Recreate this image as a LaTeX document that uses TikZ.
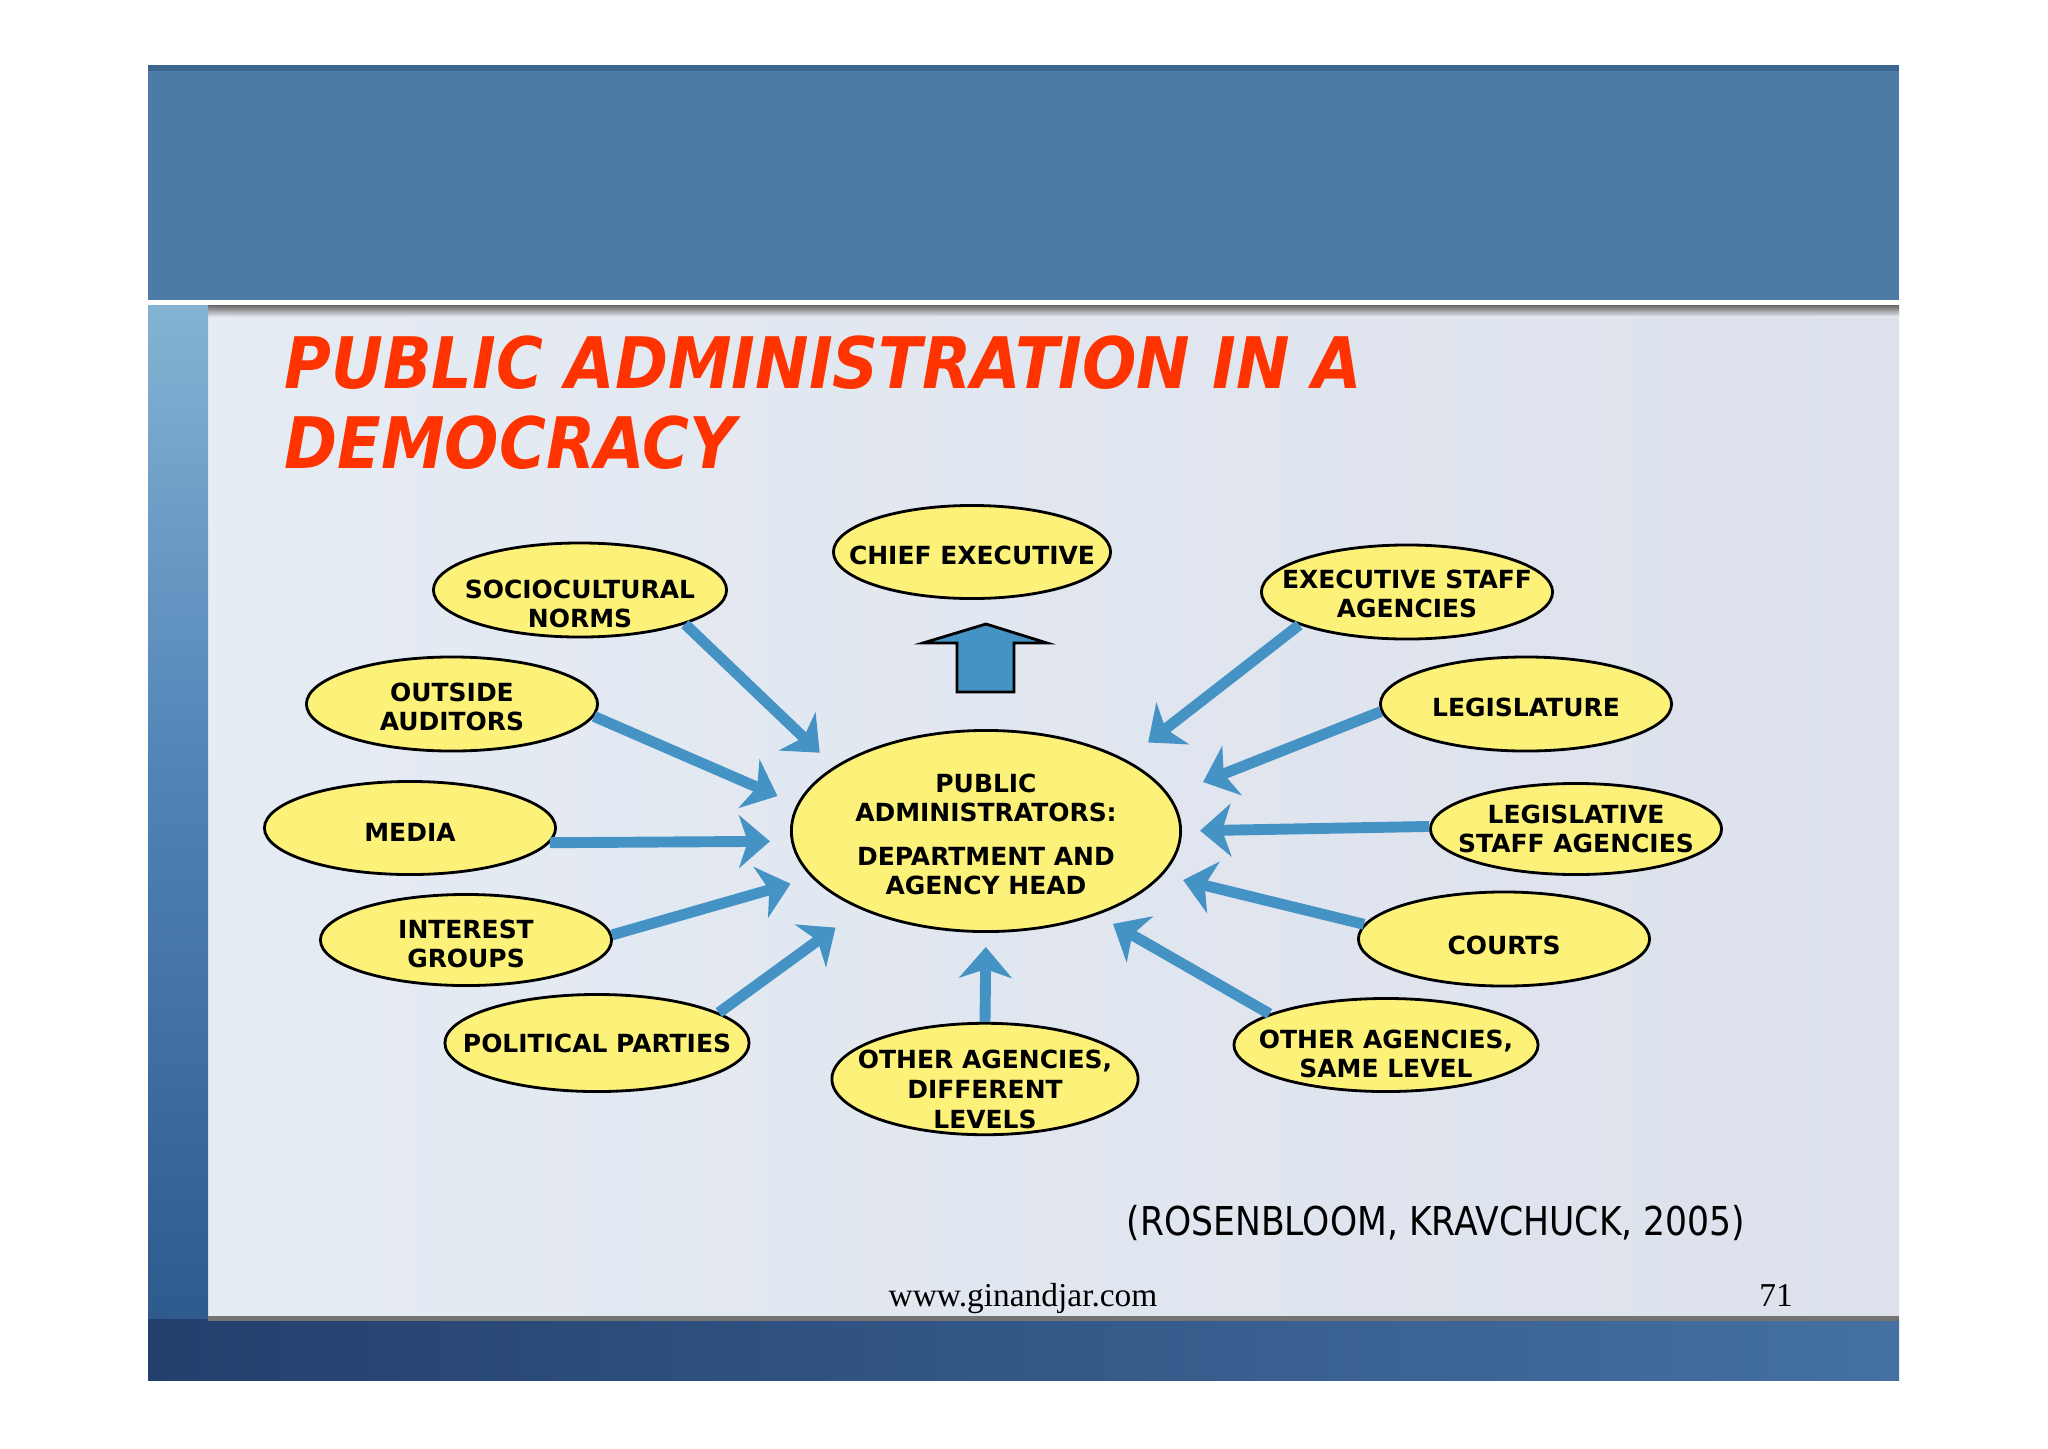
\documentclass[tikz,border=0pt]{standalone}
\usepackage{fontspec}
\setmainfont{DejaVu Sans}
\newfontfamily\footfont{Liberation Serif}
\usepackage{tikz}
\usetikzlibrary{shapes, arrows.meta, positioning}

\definecolor{bandblue}{HTML}{4E7BA5}
\definecolor{banddark}{HTML}{3A6690}
\definecolor{paneleft}{HTML}{E6ECF4}
\definecolor{paneright}{HTML}{DCE1EB}
\definecolor{stripA}{HTML}{84B3D3}
\definecolor{stripB}{HTML}{5284B8}
\definecolor{stripC}{HTML}{2E5A8E}
\definecolor{footA}{HTML}{233F6E}
\definecolor{footB}{HTML}{4471A2}
\definecolor{ovalyellow}{HTML}{FCF27A}
\definecolor{flowblue}{HTML}{4593C5}
\definecolor{titlered}{HTML}{FF3300}

% pushes the text of an oval down by #1
\newcommand{\sink}[1]{\rule{0pt}{\dimexpr 5.2pt+#1+#1\relax}}

\tikzset{
	actor/.style={ellipse, draw=black, line width=0.8pt, fill=ovalyellow,
		font=\bfseries\fontsize{7.1}{8.4}\selectfont, align=center,
		inner xsep=-0.4cm, inner ysep=-0.1cm,
		minimum width=2.91cm, minimum height=0.94cm},
	flow/.style={-{Stealth[length=8.8pt, width=15pt, inset=2.5pt]}, line width=3.1pt, draw=flowblue},
}

\begin{document}
\begin{tikzpicture}[x=0.01cm, y=-0.01cm]
	\useasboundingbox (0,0) rectangle (2048,1448);
	% slide background
	\fill[white] (0,0) rectangle (2048,1448);
	\shade[left color=paneleft, right color=paneright] (148,302) rectangle (1899,1380);
	\fill[bandblue] (148,65) rectangle (1899,302);
	\fill[banddark] (148,65) rectangle (1899,71);
	\fill[white] (148,300) rectangle (1899,305);
	\shade[top color=black!60, bottom color=paneleft] (208,305) rectangle (1899,317);
	\shade[top color=stripA, bottom color=stripB] (148,305) rectangle (208,760);
	\shade[top color=stripB, bottom color=stripC] (148,760) rectangle (208,1319);
	\shade[left color=footA, right color=footB] (148,1319) rectangle (1899,1380);
	\fill[black!55] (208,1316) rectangle (1899,1321);

	% title
	\node[anchor=base west, align=left, text=titlered,
		font=\bfseries\itshape\fontsize{20.2}{22.7}\selectfont] (title) at (272,468)
		{\scalebox{0.9}[1]{PUBLIC ADMINISTRATION IN A}\\\scalebox{0.9}[1]{DEMOCRACY}};

	% ovals
	\node[actor, minimum width=3.89cm, minimum height=2.01cm, inner xsep=0pt, inner ysep=0pt] (pa) at (986,831)
		{\sink{1pt}PUBLIC\\ADMINISTRATORS:\\[4pt]DEPARTMENT AND\\AGENCY HEAD};
	\node[actor, minimum width=2.77cm, minimum height=0.93cm] (chief) at (972,552) {\sink{1.1pt}CHIEF EXECUTIVE};
	\node[actor, minimum width=2.93cm] (socio) at (580,590) {\sink{4pt}SOCIOCULTURAL\\NORMS};
	\node[actor] (outside) at (452,704) {\sink{0.8pt}OUTSIDE\\AUDITORS};
	\node[actor, minimum height=0.93cm] (media) at (410,828) {\sink{1.1pt}MEDIA};
	\node[actor, minimum height=0.91cm] (interest) at (466,940) {\sink{1.1pt}INTEREST\\GROUPS};
	\node[actor, minimum width=3.04cm, minimum height=0.97cm] (parties) at (597,1043) {POLITICAL PARTIES};
	\node[actor, minimum width=3.06cm, minimum height=1.07cm] (otherdiff) at (985,1079) {\sink{3pt}OTHER AGENCIES,\\DIFFERENT\\LEVELS};
	\node[actor] (execstaff) at (1407,592) {\sink{0.6pt}EXECUTIVE STAFF\\AGENCIES};
	\node[actor] (legis) at (1526,704) {\sink{1.1pt}LEGISLATURE};
	\node[actor, minimum height=0.91cm] (legstaff) at (1576,829) {LEGISLATIVE\\STAFF AGENCIES};
	\node[actor] (courts) at (1504,939) {\sink{1.8pt}COURTS};
	\node[actor, minimum width=3.04cm, minimum height=0.93cm] (othersame) at (1386,1045) {\sink{2.6pt}OTHER AGENCIES,\\SAME LEVEL};

	% block arrow up to the chief executive
	\draw[fill=flowblue, line width=0.8pt, line join=miter]
		(957,692) -- (957,643) -- (923,643) -- (986,624) -- (1047,643) -- (1014,643) -- (1014,692) -- cycle;

	% influences on the public administrators
	\draw[flow, shorten >=0.20cm] (socio.-18) -- (pa.157);
	\draw[flow, shorten >=0.21cm] (outside.-5) -- (pa.172);
	\draw[flow, shorten >=0.21cm] (media.-6) -- (pa.183);
	\draw[flow, shorten >=0.22cm] (interest.2) -- (pa.195);
	\draw[flow, shorten >=0.31cm] (parties.14) -- (pa.212);
	\draw[flow, shorten >=0.14cm] (otherdiff.north) -- (pa.south);
	\draw[flow, shorten >=0.28cm] (execstaff.197) -- (pa.27);
	\draw[flow, shorten >=0.36cm] (legis.183) -- (pa.11);
	\draw[flow, shorten >=0.18cm] (legstaff.179) -- (pa.0);
	\draw[flow, shorten >=0.21cm] (courts.174) -- (pa.-14);
	\draw[flow, shorten >=0.18cm] (othersame.165) -- (pa.-37);

	% source and footer
	\node[anchor=base, font=\fontsize{11.3}{13}\selectfont] (source) at (1436,1235)
		{\scalebox{0.87}[1]{(ROSENBLOOM, KRAVCHUCK, 2005)}};
	\node[anchor=base, font=\footfont\fontsize{9.5}{11}\selectfont] (site) at (1023,1306) {www.ginandjar.com};
	\node[anchor=base, font=\footfont\fontsize{9.5}{11}\selectfont] (page) at (1776,1306) {71};
\end{tikzpicture}
\end{document}
